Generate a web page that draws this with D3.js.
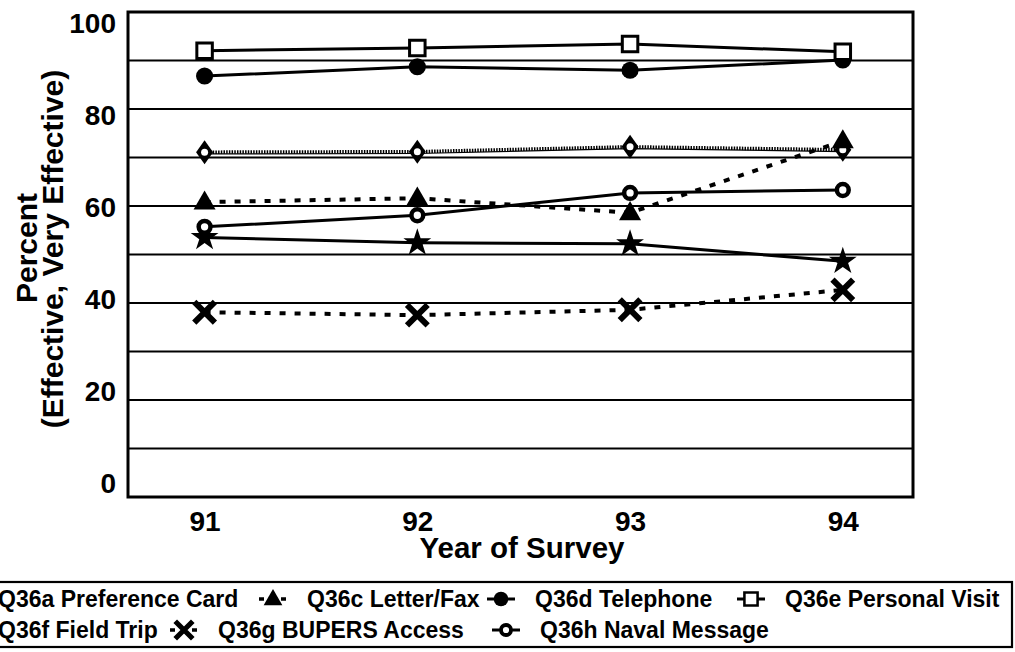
<!DOCTYPE html>
<html>
<head>
<meta charset="utf-8">
<script src="https://cdn.jsdelivr.net/npm/d3@7"></script>
<style>
  body { margin: 0; background: #fff; }
  text { font-family: "Liberation Sans", Arial, Helvetica, sans-serif; font-weight: bold; fill: #000; }
</style>
</head>
<body>
<div class="chart"></div>
<script>
// data
var years = [91, 92, 93, 94];
var prefCard = [71.1, 71.2, 72.2, 71.6];      // Q36a
var letterFax = [60.8, 61.6, 58.6, 73.4];     // Q36c
var telephone = [86.8, 88.7, 88.0, 90.1];     // Q36d
var personalVisit = [92.0, 92.6, 93.4, 91.8]; // Q36e
var fieldTrip = [53.5, 52.4, 52.2, 48.6];     // Q36f
var bupers = [38.1, 37.5, 38.6, 42.7];        // Q36g
var navalMsg = [55.7, 58.1, 62.7, 63.3];      // Q36h
var yTicks = [0, 20, 40, 60, 80, 100];
var gridTicks = [10, 20, 30, 40, 50, 60, 70, 80, 90];

var series = [
  { name: "Q36a Preference Card", values: prefCard, marker: "diamond", line: "wavy" },
  { name: "Q36c Letter/Fax", values: letterFax, marker: "triangle", line: "dotted" },
  { name: "Q36d Telephone", values: telephone, marker: "circle", line: "solid" },
  { name: "Q36e Personal Visit", values: personalVisit, marker: "square", line: "solid" },
  { name: "Q36f Field Trip", values: fieldTrip, marker: "star", line: "solid" },
  { name: "Q36g BUPERS Access", values: bupers, marker: "cross", line: "dotted" },
  { name: "Q36h Naval Message", values: navalMsg, marker: "ring", line: "solid" }
];

var svgWidth = 1015, svgHeight = 652;
var plot = { left: 128, right: 913, top: 12, bottom: 497 };

var svg = d3.select(".chart").append("svg")
  .attr("width", svgWidth)
  .attr("height", svgHeight);

var xScale = d3.scaleLinear().domain([90.64, 94.33]).range([plot.left, plot.right]);
var yScale = d3.scaleLinear().domain([0, 100]).range([plot.bottom, plot.top]);
// tick labels on the scan sit a little inside the gridlines
var yLabelScale = d3.scaleLinear().domain([0, 100]).range([482, 22]);

// gridlines
svg.append("g")
  .selectAll("line")
  .data(gridTicks)
  .enter()
  .append("line")
  .attr("x1", plot.left).attr("x2", plot.right)
  .attr("y1", d => yScale(d)).attr("y2", d => yScale(d))
  .attr("stroke", "#000")
  .attr("stroke-width", 1.8);

// frame
svg.append("rect")
  .attr("x", plot.left).attr("y", plot.top)
  .attr("width", plot.right - plot.left)
  .attr("height", plot.bottom - plot.top)
  .attr("fill", "none")
  .attr("stroke", "#000")
  .attr("stroke-width", 3);

// y axis labels
var yAxis = svg.append("g")
  .attr("transform", "translate(116,0)")
  .call(d3.axisLeft(yLabelScale).tickValues(yTicks).tickSize(0).tickPadding(0));
yAxis.select(".domain").remove();
yAxis.selectAll("text")
  .style("font-size", "28px")
  .attr("dy", "0.36em");

// x axis labels
var xAxis = svg.append("g")
  .attr("transform", `translate(0, ${plot.bottom})`)
  .call(d3.axisBottom(xScale).tickValues(years).tickFormat(d3.format("d")).tickSize(0).tickPadding(0));
xAxis.select(".domain").remove();
xAxis.selectAll("text")
  .style("font-size", "28px")
  .attr("y", 34)
  .attr("dy", 0);

// axis titles
svg.append("text")
  .attr("x", 522).attr("y", 558)
  .attr("text-anchor", "middle")
  .style("font-size", "29.5px")
  .text("Year of Survey");

svg.append("text")
  .attr("transform", "translate(37,248) rotate(-90)")
  .attr("text-anchor", "middle")
  .style("font-size", "30px")
  .text("Percent");
svg.append("text")
  .attr("transform", "translate(63,249) rotate(-90)")
  .attr("text-anchor", "middle")
  .style("font-size", "30px")
  .text("(Effective, Very Effective)");

// lines
var line = d3.line()
  .x((d, i) => xScale(years[i]))
  .y(d => yScale(d));

function styleLine(sel, kind) {
  if (kind === "dotted") {
    sel.attr("stroke-width", 4).attr("stroke-dasharray", "6,9");
  } else if (kind === "wavy") {
    sel.attr("stroke-width", 3.5).attr("stroke-dasharray", "1.5,1.2");
  } else {
    sel.attr("stroke-width", 3);
  }
  return sel.attr("fill", "none").attr("stroke", "#000");
}

var linesGroup = svg.append("g");
series.forEach(function(s) {
  if (s.line === "wavy") {
    linesGroup.append("path")
      .attr("d", line(s.values))
      .attr("fill", "none")
      .attr("stroke", "#000")
      .attr("stroke-width", 1.2)
      .attr("transform", "translate(0,1.8)");
  }
  styleLine(linesGroup.append("path").attr("d", line(s.values)), s.line);
});

// markers
var sym = {
  triangle: d3.symbol().type(d3.symbolTriangle).size(210),
  circle: d3.symbol().type(d3.symbolCircle).size(230),
  square: d3.symbol().type(d3.symbolSquare).size(240),
  star: d3.symbol().type(d3.symbolStar).size(240),
  cross: d3.symbol().type(d3.symbolX).size(280),
  ring: d3.symbol().type(d3.symbolCircle).size(110)
};
var diamondPath = "M0,-12L8.5,0L0,12L-8.5,0Z";

function drawMarker(g, kind) {
  if (kind === "square") {
    g.append("path").attr("d", sym.square()).attr("fill", "#fff").attr("stroke", "#000").attr("stroke-width", 3);
  } else if (kind === "ring") {
    g.append("path").attr("d", sym.ring()).attr("fill", "#fff").attr("stroke", "#000").attr("stroke-width", 4.5);
  } else if (kind === "cross") {
    g.append("path").attr("d", sym.cross()).attr("fill", "none").attr("stroke", "#000").attr("stroke-width", 6);
  } else if (kind === "diamond") {
    g.append("path").attr("d", diamondPath).attr("fill", "#000");
    g.append("circle").attr("r", 3.5).attr("fill", "#fff");
  } else if (kind === "triangle") {
    g.append("path").attr("d", sym.triangle()).attr("fill", "#000").attr("transform", "translate(0,1)");
  } else {
    g.append("path").attr("d", sym[kind]()).attr("fill", "#000");
  }
}

series.forEach(function(s) {
  var mg = svg.append("g").selectAll("g")
    .data(s.values)
    .enter()
    .append("g")
    .attr("transform", (d, i) => `translate(${xScale(years[i])},${yScale(d)})`);
  mg.each(function() { drawMarker(d3.select(this), s.marker); });
});

// legend
var legend = svg.append("g");
legend.append("rect")
  .attr("x", -10).attr("y", 582)
  .attr("width", 1022).attr("height", 65)
  .attr("fill", "none")
  .attr("stroke", "#000")
  .attr("stroke-width", 2.2);

// where each legend label starts, as on the scan
var legendRows = [
  { y: 607, textX: [-2, 307, 535, 785], items: series.slice(0, 4) },
  { y: 638, textX: [-2, 218, 540], items: series.slice(4) }
];

legendRows.forEach(function(row) {
  row.items.forEach(function(s, i) {
    var tx = row.textX[i];
    var cx = tx - 34;
    var sg = legend.append("g").attr("transform", `translate(${cx},${row.y - 8})`);
    var seg = sg.append("line").attr("x1", -14).attr("x2", 14).attr("y1", 0).attr("y2", 0).attr("stroke", "#000");
    if (s.line === "dotted") seg.attr("stroke-dasharray", "5,6").attr("stroke-width", 3.5);
    else seg.attr("stroke-width", 3);
    var mk = sg.append("g").attr("transform", "scale(0.85)");
    drawMarker(mk, s.marker);
    legend.append("text")
      .attr("x", tx).attr("y", row.y)
      .style("font-size", "23px")
      .text(s.name);
  });
});
</script>
</body>
</html>
